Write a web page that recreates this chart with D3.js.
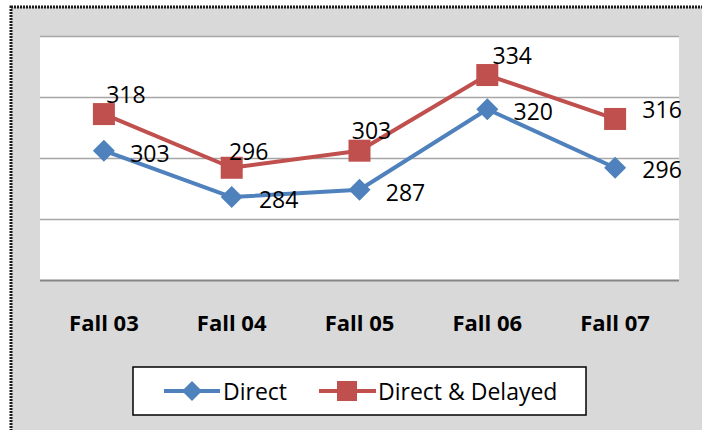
<!DOCTYPE html>
<html>
<head>
<meta charset="utf-8">
<script src="https://cdn.jsdelivr.net/npm/d3@7"></script>
<style>
  body { margin: 0; background: #fff; }
  svg { display: block; font-family: "Open Sans", sans-serif; }
</style>
</head>
<body>
<svg width="702" height="430"></svg>
<script>
// data
let categories = ["Fall 03", "Fall 04", "Fall 05", "Fall 06", "Fall 07"];
let direct = [303, 284, 287, 320, 296];
let delayed = [318, 296, 303, 334, 316];
let seriesNames = ["Direct", "Direct & Delayed"];
let yTicks = [250, 275, 300, 325, 350];

// label nudges (layout only), in px from the marker
let directLabelDx = [46, 47, 46, 46, 47];
let directLabelDy = [2, 2, 2, 2, 1];
let delayedLabelDx = [22, 17, 12, 25, 47];
let delayedLabelDy = [-20, -17, -21, -20, -10];

let blue = "#4f81bd";
let red = "#c0504d";

let svg = d3.select("svg");

// chart background + outer border (cut off at right/bottom)
svg.append("rect")
  .attr("x", 11).attr("y", 7)
  .attr("width", 720).attr("height", 440)
  .attr("fill", "#d9d9d9")
  .attr("stroke", "#1a1a1a")
  .attr("stroke-width", 3)
  .attr("stroke-dasharray", "2,1");

let plotL = 40, plotR = 679, plotT = 36, plotB = 280;

svg.append("rect")
  .attr("x", plotL).attr("y", plotT)
  .attr("width", plotR - plotL).attr("height", plotB - plotT)
  .attr("fill", "#fff");

let x = d3.scaleBand().domain(categories).range([plotL, plotR]);
let y = d3.scaleLinear().domain([250, 350]).range([plotB, plotT]);
let cx = function (c) { return x(c) + x.bandwidth() / 2; };

// gridlines
let grid = svg.append("g")
  .attr("transform", "translate(" + plotL + ",0)")
  .call(d3.axisLeft(y).tickValues(yTicks).tickSize(-(plotR - plotL)).tickFormat(""));
grid.select(".domain").remove();
grid.selectAll(".tick line")
  .attr("stroke", function (d) { return d === 250 ? "#868686" : "#a6a6a6"; })
  .attr("stroke-width", function (d) { return d === 250 ? 2 : 1.5; });

// category labels
svg.append("g").selectAll("text")
  .data(categories)
  .enter()
  .append("text")
  .attr("x", function (d) { return cx(d); })
  .attr("y", 331)
  .attr("text-anchor", "middle")
  .attr("font-size", 22)
  .attr("font-weight", "bold")
  .attr("fill", "#000")
  .text(function (d) { return d; });

let line = d3.line()
  .x(function (d, i) { return cx(categories[i]); })
  .y(function (d) { return y(d); });

function diamond(g, px, py, r) {
  g.append("path")
    .attr("d", "M" + px + "," + (py - r) + "L" + (px + r) + "," + py +
      "L" + px + "," + (py + r) + "L" + (px - r) + "," + py + "Z")
    .attr("fill", blue);
}

// Direct
svg.append("path")
  .datum(direct)
  .attr("d", line)
  .attr("fill", "none")
  .attr("stroke", blue)
  .attr("stroke-width", 4)
  .attr("stroke-linejoin", "round");

let dMarks = svg.append("g");
direct.forEach(function (v, i) {
  diamond(dMarks, cx(categories[i]), y(v), 11);
});

// Direct & Delayed
svg.append("path")
  .datum(delayed)
  .attr("d", line)
  .attr("fill", "none")
  .attr("stroke", red)
  .attr("stroke-width", 4)
  .attr("stroke-linejoin", "round");

svg.append("g").selectAll("rect")
  .data(delayed)
  .enter()
  .append("rect")
  .attr("x", function (d, i) { return cx(categories[i]) - 11; })
  .attr("y", function (d) { return y(d) - 11; })
  .attr("width", 22)
  .attr("height", 22)
  .attr("fill", red);

// data labels
svg.append("g").selectAll("text")
  .data(direct)
  .enter()
  .append("text")
  .attr("x", function (d, i) { return cx(categories[i]) + directLabelDx[i]; })
  .attr("y", function (d, i) { return y(d) + directLabelDy[i]; })
  .attr("text-anchor", "middle")
  .attr("dominant-baseline", "central")
  .attr("font-size", 23)
  .attr("fill", "#000")
  .text(function (d) { return d; });

svg.append("g").selectAll("text")
  .data(delayed)
  .enter()
  .append("text")
  .attr("x", function (d, i) { return cx(categories[i]) + delayedLabelDx[i]; })
  .attr("y", function (d, i) { return y(d) + delayedLabelDy[i]; })
  .attr("text-anchor", "middle")
  .attr("dominant-baseline", "central")
  .attr("font-size", 23)
  .attr("fill", "#000")
  .text(function (d) { return d; });

// legend
let lg = svg.append("g");
lg.append("rect")
  .attr("x", 133).attr("y", 367)
  .attr("width", 453).attr("height", 48)
  .attr("fill", "#fff")
  .attr("stroke", "#000")
  .attr("stroke-width", 1.5);

lg.append("line")
  .attr("x1", 164).attr("x2", 220).attr("y1", 391).attr("y2", 391)
  .attr("stroke", blue).attr("stroke-width", 4);
diamond(lg, 192, 391, 10);
lg.append("text")
  .attr("x", 223).attr("y", 391)
  .attr("dominant-baseline", "central")
  .attr("font-size", 23)
  .text(seriesNames[0]);

lg.append("line")
  .attr("x1", 319).attr("x2", 376).attr("y1", 391).attr("y2", 391)
  .attr("stroke", red).attr("stroke-width", 4);
lg.append("rect")
  .attr("x", 337).attr("y", 381)
  .attr("width", 20).attr("height", 20)
  .attr("fill", red);
lg.append("text")
  .attr("x", 378).attr("y", 391)
  .attr("dominant-baseline", "central")
  .attr("font-size", 23)
  .text(seriesNames[1]);
</script>
</body>
</html>
